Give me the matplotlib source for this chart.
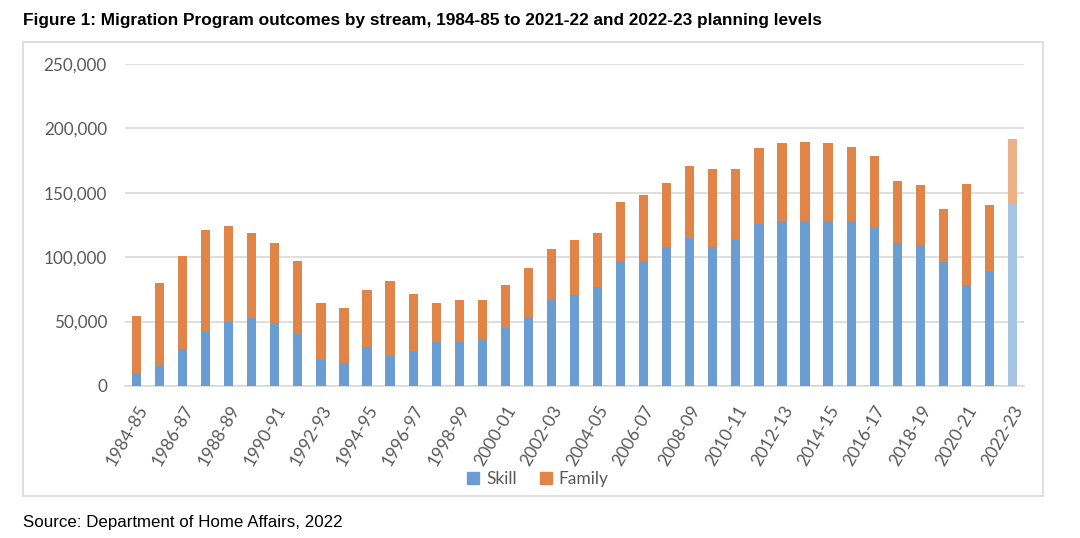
import matplotlib
matplotlib.use('Agg')
import matplotlib.pyplot as plt
from matplotlib.patches import Rectangle, Patch
from matplotlib.ticker import FuncFormatter

# Migration Program outcomes
years = ['1984-85', '1985-86', '1986-87', '1987-88', '1988-89', '1989-90', '1990-91',
         '1991-92', '1992-93', '1993-94', '1994-95', '1995-96', '1996-97', '1997-98',
         '1998-99', '1999-00', '2000-01', '2001-02', '2002-03', '2003-04', '2004-05',
         '2005-06', '2006-07', '2007-08', '2008-09', '2009-10', '2010-11', '2011-12',
         '2012-13', '2013-14', '2014-15', '2015-16', '2016-17', '2017-18', '2018-19',
         '2019-20', '2020-21', '2021-22', '2022-23']
skill = [10100, 15600, 28800, 42300, 50000, 52900, 48700, 40700, 20500, 18200,
         30300, 23600, 27500, 34200, 34200, 35800, 45100, 53200, 66400, 70300,
         77000, 97200, 97200, 107900, 114900, 107900, 113300, 125500, 128100, 128100,
         128100, 128100, 122700, 110700, 109200, 95900, 78800, 88900, 142400]
total = [54200, 79600, 101100, 121400, 124000, 118800, 110700, 97200, 64800, 60900,
         74400, 81200, 71800, 64800, 66400, 66400, 78600, 91800, 106600, 113300,
         118800, 142900, 148000, 157700, 170900, 168300, 168300, 184600, 188500, 189800,
         188300, 185700, 178900, 159000, 156100, 137400, 156600, 140500, 191900]
family = [t - s for t, s in zip(total, skill)]

SKILL_C = '#6A9DD1'
FAMILY_C = '#E08447'
SKILL_PLAN = '#A7C4E3'
FAMILY_PLAN = '#ECB186'
GRID_C = '#D9D9D9'
TEXT_C = '#595959'

W, H = 1080, 538
fig = plt.figure(figsize=(W / 100, H / 100), dpi=100)

# chart frame
fig.patches.append(Rectangle((23 / W, 1 - 496 / H), (1043 - 23) / W, (496 - 42) / H,
                             transform=fig.transFigure, fill=False,
                             edgecolor=GRID_C, linewidth=1.2))

ax = fig.add_axes([125 / W, 1 - 386 / H, (1024 - 125) / W, (386 - 64) / H])

x = range(len(years))
skill_cols = [SKILL_C] * (len(years) - 1) + [SKILL_PLAN]
family_cols = [FAMILY_C] * (len(years) - 1) + [FAMILY_PLAN]
ax.bar(x, skill, width=0.4, color=skill_cols, zorder=3)
ax.bar(x, family, width=0.4, bottom=skill, color=family_cols, zorder=3)

ax.set_xlim(-0.5, len(years) - 0.5)
ax.set_ylim(0, 250000)
ax.set_yticks(range(0, 250001, 50000))
ax.yaxis.set_major_formatter(FuncFormatter(lambda v, p: f'{int(v):,}'))
ax.grid(axis='y', color=GRID_C, linewidth=1.2, zorder=0)
for s in ['top', 'right', 'left']:
    ax.spines[s].set_visible(False)
ax.spines['bottom'].set_color(GRID_C)
ax.spines['bottom'].set_linewidth(1.2)
ax.tick_params(axis='both', length=0, colors=TEXT_C)
ax.tick_params(axis='y', pad=13)

ax.set_xticks(list(x)[::2])
ax.set_xticklabels(years[::2], rotation=60, ha='right', rotation_mode='anchor',
                   fontfamily='Lato', fontsize=12.5)
ax.tick_params(axis='x', pad=12)
for lab in ax.get_yticklabels():
    lab.set_fontfamily('Lato')
    lab.set_fontsize(12.3)

handles = [Patch(color=SKILL_C, label='Skill'), Patch(color=FAMILY_C, label='Family')]
fig.legend(handles=handles, loc='center', bbox_to_anchor=(538 / W, 1 - 479 / H), ncol=2,
           frameon=False, prop={'family': 'Lato', 'size': 12.5}, labelcolor=TEXT_C,
           handlelength=0.7, handleheight=0.7, handletextpad=0.4, columnspacing=1.3)

fig.text(23 / W, 1 - 20 / H,
         'Figure 1: Migration Program outcomes by stream, 1984-85 to 2021-22 and 2022-23 planning levels',
         fontfamily='Liberation Sans', fontweight='bold', fontsize=12.4, va='center', ha='left')
fig.text(23 / W, 1 - 522 / H, 'Source: Department of Home Affairs, 2022',
         fontfamily='Liberation Sans', fontsize=12.2, va='center', ha='left')

fig.savefig('out.png', dpi=100)
